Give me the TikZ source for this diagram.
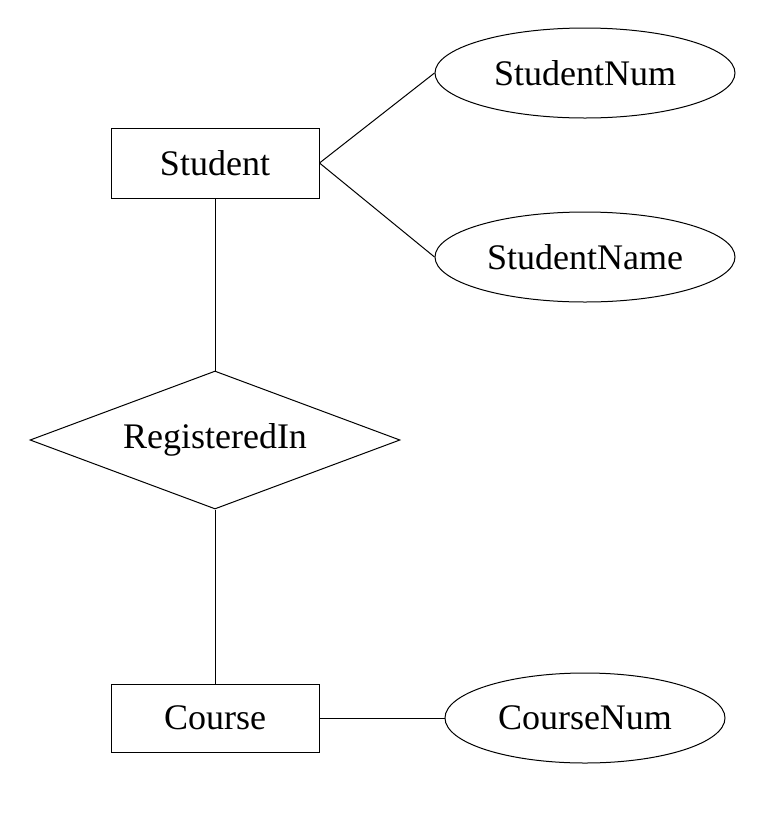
\documentclass[tikz,border=0pt]{standalone}
\usepackage{fontspec}
\setmainfont{Liberation Serif}
\usetikzlibrary{shapes.geometric}
\begin{document}
\begin{tikzpicture}[x=1pt,y=1pt,line width=1pt,
  every node/.style={font=\fontsize{36}{40}\selectfont, inner sep=0pt},
  entity/.style={draw, rectangle, minimum width=208pt, minimum height=70pt},
  attr/.style={draw, ellipse, minimum width=300pt, minimum height=90pt},
  rel/.style={draw, diamond, aspect=2.68, minimum width=370pt, minimum height=138pt}]
\useasboundingbox (0,0) rectangle (777,-820);
\node[entity] (student) at (215,-163) {Student};
\node[attr] (snum) at (585,-73) {StudentNum};
\node[attr] (sname) at (585,-257) {StudentName};
\node[rel] (reg) at (215,-440) {RegisteredIn};
\node[entity, minimum height=68pt] (course) at (215,-718) {Course};
\node[attr, minimum width=280pt] (cnum) at (585,-718) {CourseNum};
\draw (student.east) -- (snum.west);
\draw (student.east) -- (sname.west);
\draw (student.south) -- (reg.north);
\draw (reg.south) -- (course.north);
\draw (course.east) -- (cnum.west);
\end{tikzpicture}
\end{document}
